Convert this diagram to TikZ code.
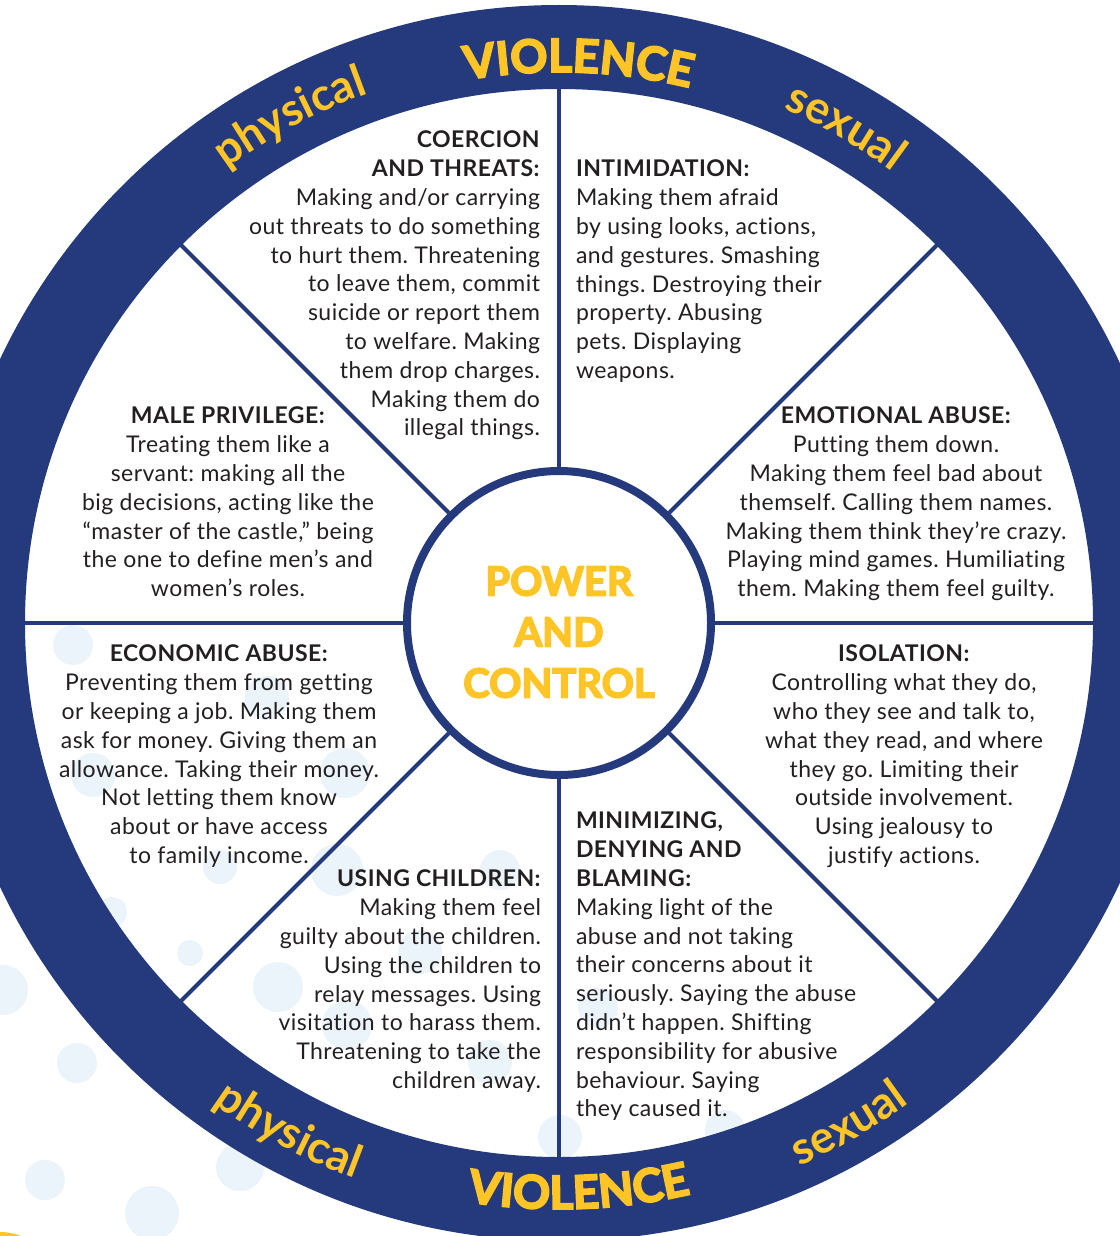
\documentclass[tikz,border=0pt]{standalone}
\usepackage{fontspec}
\setmainfont{Lato}[LetterSpace=2, Ligatures=NoCommon]
\newfontfamily\rimfont{Lato}
\newfontfamily\heavyfont{Lato}[BoldFeatures={FakeBold=4}]
\usetikzlibrary{decorations.text}
\frenchspacing

\begin{document}
\begin{tikzpicture}[x=1pt,y=-1pt,
  spoke/.style={line width=4.0pt, wheelnavy},
  blurb/.style={inner sep=0, outer sep=0, text=inkgray, font=\fontsize{23pt}{28.8pt}\selectfont},
  rimword/.style={decorate, decoration={text along path, text align=center, text color=wheelgold, text={#1}}}]
\useasboundingbox (0,0) rectangle (1119,1236);
\definecolor{wheelnavy}{RGB}{37, 58, 125}
\definecolor{wheelgold}{RGB}{255, 196, 37}
\definecolor{dotblue}{RGB}{235, 243, 251}
\definecolor{inkgray}{RGB}{35, 31, 32}
\def\rimbig{\heavyfont\bfseries\fontsize{46pt}{46pt}\selectfont}
\def\rimsmall{\rimfont\bfseries\fontsize{45pt}{45pt}\selectfont}
% soft dots behind the wheel
\foreach \x/\y/\r in {73/645/20, 267/698/22, 93/775/22, 345/773/25, 220/867/17, 337/870/26,
  500/870/20, 420/952/22, 278/987/25, 347/1025/25, 490/1062/22, 3/990/25, 77/1063/20,
  190/953/13, 112/912/15, 45/1180/20, 152/1213/27, 240/1167/24, 598/1008/20, 560/1137/22,
  725/1130/20}
  \fill[dotblue] (\x,\y) circle (\r);
\fill[wheelgold] (0,1290) circle (58);
% hub and spokes
\coordinate (hubc) at (559,623);
\node[circle, draw=wheelnavy, line width=8.0pt, fill=white, minimum size=304pt, inner sep=0] (hub) at (hubc) {};
\foreach \a in {0,45,...,315} {
  \coordinate (rim\a) at ([shift={(\a:540)}]hubc);
  \draw[spoke] (hub) -- (rim\a);
}
% outer ring
\fill[wheelnavy, even odd rule] (hubc) circle (618) (hubc) circle (534);
\path[rimword={|\rimbig|VIOLENCE}] ([shift={(252:551)}]hubc) arc (252:292:551);
\path[rimword={|\rimbig|VIOLENCE}] ([shift={(108:586)}]hubc) arc (108:68:586);
\path[rimword={|\rimsmall|physical}] ([shift={(222:563)}]hubc) arc (222:262:563);
\path[rimword={|\rimsmall|sexual}] ([shift={(280:561)}]hubc) arc (280:320:561);
\path[rimword={|\rimsmall|physical}] ([shift={(138:592)}]hubc) arc (138:98:592);
\path[rimword={|\rimsmall|sexual}] ([shift={(80:594)}]hubc) arc (80:40:594);
\node[align=center, inner sep=0, text=wheelgold, font=\heavyfont\bfseries\fontsize{40pt}{51pt}\selectfont] (hubtext) at (559,632) {POWER\\AND\\CONTROL};
% the eight tactics
\node[blurb, align=right, anchor=north east] (coercion) at (540,131) {\textbf{COERCION}\\\textbf{AND THREATS:}\\Making and/or carrying\\out threats to do something\\to hurt them. Threatening\\to leave them, commit\\suicide or report them\\to welfare. Making\\them drop charges.\\Making them do\\illegal things.};
\node[blurb, align=left, anchor=north west] (intimidation) at (576,160) {\textbf{INTIMIDATION:}\\Making them afraid\\by using looks, actions,\\and gestures. Smashing\\things. Destroying their\\property. Abusing\\pets. Displaying\\weapons.};
\node[blurb, align=center, anchor=north] (privilege) at (228,407) {\textbf{MALE PRIVILEGE:}\\Treating them like a\\servant: making all the\\big decisions, acting like the\\“master of the castle,” being\\the one to define men’s and\\women’s roles.};
\node[blurb, align=center, anchor=north] (emotional) at (896,407) {\textbf{EMOTIONAL ABUSE:}\\Putting them down.\\Making them feel bad about\\themself. Calling them names.\\Making them think they’re crazy.\\Playing mind games. Humiliating\\them. Making them feel guilty.};
\node[blurb, align=center, anchor=north] (economic) at (219,645) {\textbf{ECONOMIC ABUSE:}\\Preventing them from getting\\or keeping a job. Making them\\ask for money. Giving them an\\allowance. Taking their money.\\Not letting them know\\about or have access\\to family income.};
\node[blurb, align=center, anchor=north] (isolation) at (904,645) {\textbf{ISOLATION:}\\Controlling what they do,\\who they see and talk to,\\what they read, and where\\they go. Limiting their\\outside involvement.\\Using jealousy to\\justify actions.};
\node[blurb, align=left, anchor=north west] (minimizing) at (576,812) {\textbf{MINIMIZING,}\\\textbf{DENYING AND}\\\textbf{BLAMING:}\\Making light of the\\abuse and not taking\\their concerns about it\\seriously. Saying the abuse\\didn’t happen. Shifting\\responsibility for abusive\\behaviour. Saying\\they caused it.};
\node[blurb, align=right, anchor=north east] (children) at (541,870) {\textbf{USING CHILDREN:}\\Making them feel\\guilty about the children.\\Using the children to\\relay messages. Using\\visitation to harass them.\\Threatening to take the\\children away.};
\end{tikzpicture}
\end{document}
